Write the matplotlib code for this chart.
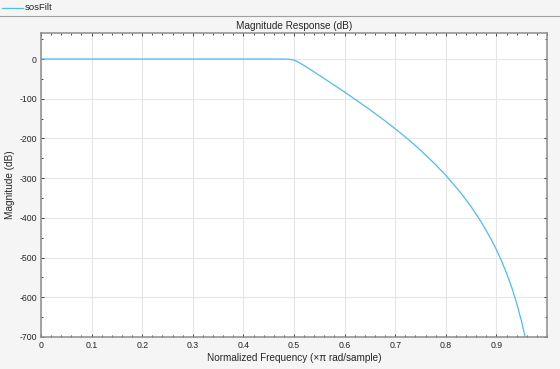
import numpy as np
import matplotlib
matplotlib.use("Agg")
import matplotlib.pyplot as plt
from matplotlib.ticker import MultipleLocator
from matplotlib.lines import Line2D

plt.rcParams['font.family'] = ['Liberation Sans', 'DejaVu Sans']
plt.rcParams['axes.unicode_minus'] = False

# normalized frequency (x pi rad/sample) and magnitude (dB)
freq = [0.0, 0.1, 0.2, 0.3, 0.4, 0.45, 0.48, 0.49, 0.495, 0.5, 0.505, 0.51,
        0.52, 0.53, 0.54, 0.55, 0.57, 0.6, 0.63, 0.65, 0.68, 0.7, 0.73, 0.75,
        0.78, 0.8, 0.83, 0.85, 0.87, 0.89, 0.9, 0.91, 0.92, 0.93, 0.94, 0.95,
        0.955, 0.96]
mag_db = [0.0, 0.0, 0.0, 0.0, 0.0, 0.0, -0.1, -0.6, -1.4, -3.0, -5.5, -8.8,
          -16.5, -24.5, -32.8, -41.1, -57.8, -83.3, -109.8, -127.6, -155.9,
          -175.7, -206.8, -229.6, -266.2, -292.9, -337.7, -371.8, -410.3,
          -454.9, -480.2, -508.0, -539.1, -574.2, -614.6, -662.4, -690.0, -720.8]
legend_name = 'sosFilt'

line_color = '#4dbeee'
bg = '#f5f5f5'

fig = plt.figure(figsize=(5.6, 3.69), dpi=100, facecolor=bg)
ax = fig.add_axes([41/560, 1-337/369, (547-41)/560, (337-33)/369])
ax.set_facecolor('white')

ax.plot(freq, mag_db, color=line_color, lw=0.9, clip_on=True)

ax.set_xlim(0, 1)
ax.set_ylim(-700, 65.5)
ax.xaxis.set_minor_locator(MultipleLocator(0.02))
ax.yaxis.set_minor_locator(MultipleLocator(50))
ax.set_xticks(np.arange(0, 0.95, 0.1))
ax.set_xticklabels(['0', '0.1', '0.2', '0.3', '0.4', '0.5', '0.6', '0.7', '0.8', '0.9'])
ax.set_yticks(np.arange(-700, 1, 100))

ax.grid(True, which='major', color='#e6e6e6', lw=0.8)
ax.set_axisbelow(True)
ax.tick_params(which='both', direction='in', top=True, right=True,
               labelsize=6.3, colors='#262626', pad=3)
ax.tick_params(which='major', length=2.2, width=0.6)
ax.tick_params(which='minor', length=1.3, width=0.6)
for s in ax.spines.values():
    s.set_color('#8c8c8c')
    s.set_linewidth(1.1)

ax.set_title('Magnitude Response (dB)', fontsize=7.2, color='#262626', pad=3)
ax.set_xlabel('Normalized Frequency (\u00d7\u03c0 rad/sample)', fontsize=7.2,
              color='#262626', labelpad=2)
ax.set_ylabel('Magnitude (dB)', fontsize=7.2, color='#262626')
ax.yaxis.set_label_coords(-26/506, 0.5)

# legend strip on top
fig.add_artist(Line2D([0, 1], [1-15.5/369]*2, color='#a0a0a0', lw=0.8))
fig.add_artist(Line2D([2/560, 23/560], [1-7.5/369]*2, color=line_color, lw=0.9))
fig.text(25/560, 1-7.5/369, legend_name, fontsize=6.8, color='#262626',
         va='center', ha='left')

fig.savefig('out.png', dpi=100, facecolor=bg)
